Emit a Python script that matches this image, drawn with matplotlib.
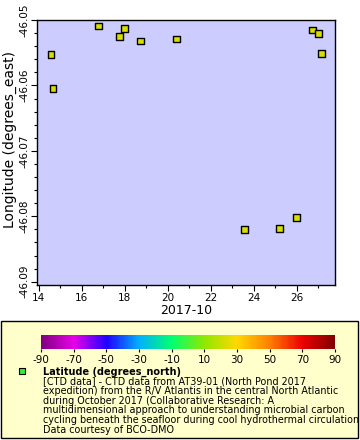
import matplotlib
matplotlib.use("Agg")
import matplotlib.pyplot as plt
from matplotlib.colors import LinearSegmentedColormap, Normalize
from matplotlib.ticker import MultipleLocator, FormatStrFormatter
from matplotlib.patches import Rectangle

plt.rcParams["axes.unicode_minus"] = False

# days in October 2017
day = [14.59, 14.68, 16.78, 17.75, 17.99, 18.74, 20.42,
       26.73, 27.01, 27.15, 23.57, 25.20, 25.99]
lon = [-46.0553, -46.0605, -46.0509, -46.0525, -46.0513, -46.0532, -46.0529,
       -46.0515, -46.0521, -46.0551, -46.0820, -46.0819, -46.0802]
lat = [22.75] * len(day)

cbar_ticks = [-90, -70, -50, -30, -10, 10, 30, 50, 70, 90]
legend_title = "Latitude (degrees_north)"
legend_text = ("[CTD data] - CTD data from AT39-01 (North Pond 2017\n"
               "expedition) from the R/V Atlantis in the central North Atlantic\n"
               "during October 2017 (Collaborative Research: A\n"
               "multidimensional approach to understanding microbial carbon\n"
               "cycling beneath the seafloor during cool hydrothermal circulation\n"
               "Data courtesy of BCO-DMO")

# rainbow-ish palette
nodes = [(0.0, "#800080"), (0.111, "#e800e8"), (0.222, "#2000ff"),
         (0.333, "#00b0ff"), (0.444, "#00ff70"), (0.556, "#90e800"),
         (0.667, "#ffd800"), (0.778, "#ff8000"), (0.889, "#ee0000"),
         (1.0, "#800000")]
cmap = LinearSegmentedColormap.from_list("rb", nodes)
norm = Normalize(-90, 90)

fig = plt.figure(figsize=(3.6, 4.4), dpi=100)

# legend panel background (pixel coords)
bg = fig.add_axes([0, 0, 1, 1], facecolor="none", zorder=-1)
bg.set_axis_off()
bg.set_xlim(0, 360)
bg.set_ylim(440, 0)
box = Rectangle((1, 321), 357, 117, facecolor="#ffffcc",
                edgecolor="black", linewidth=1.0, zorder=0)
bg.add_patch(box)
bg.scatter([22], [371], marker="s", s=22, c="#33ee33", edgecolors="black",
           linewidths=0.8, zorder=2)
bg.text(43, 371.5, legend_title, fontsize=7, fontweight="bold", va="center", zorder=2)
txt = bg.text(43, 376, legend_text, fontsize=6.9, va="top", linespacing=0.97, zorder=2)
txt.set_clip_path(box)

ax = fig.add_axes([37/360, 1-285/440, 298/360, 265/440])
ax.set_facecolor("#ccccff")
ax.scatter(day, lon, c=lat, cmap=cmap, norm=norm, marker="s", s=22,
           edgecolors="black", linewidths=1.0, zorder=3)
ax.set_xlim(13.93, 27.77)
ax.set_ylim(-46.0905, -46.05)
ax.xaxis.set_major_locator(MultipleLocator(2))
ax.xaxis.set_minor_locator(MultipleLocator(1))
ax.yaxis.set_major_locator(MultipleLocator(0.01))
ax.yaxis.set_minor_locator(MultipleLocator(0.002))
ax.yaxis.set_major_formatter(FormatStrFormatter("%.2f"))
ax.tick_params(labelsize=7.5, length=4, width=0.8, pad=1.5)
ax.tick_params(which="minor", length=2.5, width=0.8)
for t in ax.get_yticklabels():
    t.set_rotation(90)
    t.set_va("center")
ax.set_xlabel("2017-10", fontsize=9, labelpad=1)
ax.set_ylabel("Longitude (degrees_east)", fontsize=10)
ax.yaxis.set_label_coords(-0.068, 0.55)
for s in ax.spines.values():
    s.set_linewidth(1.0)

cax = fig.add_axes([41/360, 1-349/440, 294/360, 14/440])
cb = fig.colorbar(plt.cm.ScalarMappable(norm=norm, cmap=cmap), cax=cax,
                  orientation="horizontal", ticks=cbar_ticks)
cb.outline.set_visible(False)
cax.tick_params(labelsize=7.5, length=2.5, width=0.8, pad=1.5)

fig.savefig("out.png", dpi=100)
